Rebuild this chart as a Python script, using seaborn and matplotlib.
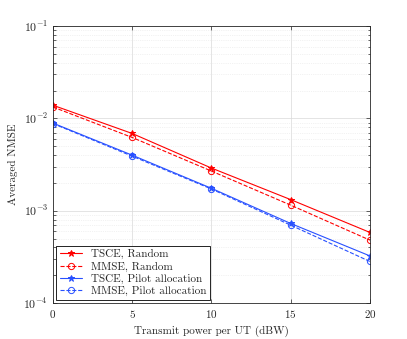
import numpy as np
import pandas as pd
import matplotlib
matplotlib.use("Agg")
import matplotlib.pyplot as plt
import seaborn as sns
from matplotlib.ticker import LogLocator, NullFormatter

# donnees
power = [0, 5, 10, 15, 20]
tsce_random = [0.0139, 0.00687, 0.0029, 0.00132, 0.000582]
mmse_random = [0.0133, 0.00622, 0.00269, 0.00115, 0.00048]
tsce_pilot = [0.0089, 0.0040, 0.00175, 0.000728, 0.000324]
mmse_pilot = [0.0088, 0.0039, 0.00172, 0.000698, 0.000282]

series = [
    ("TSCE, Random", tsce_random, "red", "*", "-", "red"),
    ("MMSE, Random", mmse_random, "red", "o", "--", "none"),
    ("TSCE, Pilot allocation", tsce_pilot, "#2850ff", "*", "-", "#2850ff"),
    ("MMSE, Pilot allocation", mmse_pilot, "#2850ff", "o", "--", "none"),
]

sns.set_style("ticks")
plt.rcParams["font.family"] = "serif"
plt.rcParams["font.serif"] = ["cmr10"]
plt.rcParams["mathtext.fontset"] = "cm"
plt.rcParams["axes.formatter.use_mathtext"] = True

fig = plt.figure(figsize=(4.07, 3.39), dpi=100)
ax = fig.add_axes([0.130, 0.106, 0.779, 0.817])

for label, vals, col, mk, ls, mfc in series:
    df = pd.DataFrame({"p": power, "v": vals})
    sns.lineplot(data=df, x="p", y="v", ax=ax, color=col, marker=mk, linestyle=ls,
                 markersize=4.5 if mk == "o" else 5, markerfacecolor=mfc,
                 markeredgecolor=col, markeredgewidth=0.7, linewidth=0.8, label=label)

ax.set_yscale("log")
ax.set_xlim(0, 20)
ax.set_ylim(1e-4, 1e-1)
ax.set_xticks([0, 5, 10, 15, 20])
ax.yaxis.set_major_locator(LogLocator(base=10, numticks=10))
ax.yaxis.set_minor_locator(LogLocator(base=10, subs=np.arange(2, 10), numticks=20))
ax.yaxis.set_minor_formatter(NullFormatter())

ax.grid(True, which="major", color="#d9d9d9", linewidth=0.5, linestyle="-")
ax.grid(True, which="minor", axis="y", color="#e6e6e6", linewidth=0.5, linestyle=":")
ax.tick_params(which="both", direction="in", top=True, right=True, labelsize=8, width=0.5)
ax.tick_params(axis="y", which="major", labelsize=8.5)
ax.tick_params(which="major", length=3)
ax.tick_params(which="minor", length=1.8)
for s in ax.spines.values():
    s.set_linewidth(0.6)
    s.set_color("#262626")

ax.set_xlabel("Transmit power per UT (dBW)", fontsize=8)
ax.set_ylabel("Averaged NMSE", fontsize=8)

leg = ax.legend(loc="lower left", fontsize=8, frameon=True, fancybox=False,
                edgecolor="black", framealpha=1, borderaxespad=0.3,
                handlelength=2.0, labelspacing=0.2, borderpad=0.3)
leg.get_frame().set_linewidth(0.6)

fig.savefig("out.png", dpi=100)
